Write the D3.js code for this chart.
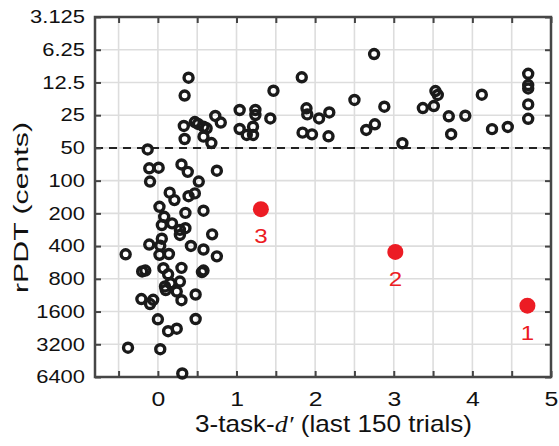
<!DOCTYPE html>
<html><head><meta charset="utf-8">
<script src="https://cdn.jsdelivr.net/npm/d3@7"></script>
<style>body{margin:0;background:#fff}svg{display:block}</style>
</head><body>
<svg id="c" width="559" height="446"></svg>
<script>
// ---- data ----
const dprime = [0.39,0.34,0.33,0.34,0.47,0.58,0.62,0.58,0.68,0.73,
  0.80,0.51,1.04,1.04,1.13,1.21,1.24,1.24,1.21,1.43,
  1.47,1.83,1.89,1.90,2.05,2.18,1.84,1.96,2.17,2.50,
  2.65,2.76,2.75,2.88,3.11,3.37,3.53,3.56,3.51,3.70,
  3.73,3.91,4.12,4.25,4.45,4.71,4.71,4.71,4.71,4.71,
  -0.13,
  -0.11,0.01,-0.10,0.30,0.38,0.75,0.52,0.15,0.21,0.39,
  0.47,0.02,0.35,0.58,0.08,0.05,0.18,0.28,0.35,0.28,
  0.69,-0.11,0.05,0.03,0.02,0.14,0.42,0.58,0.75,-0.41,
  -0.20,-0.16,0.07,0.13,0.30,0.56,0.58,0.09,0.16,0.28,
  0.10,0.24,0.48,-0.21,-0.06,-0.10,0.30,0.00,0.48,0.13,
  0.24,-0.38,0.03,0.31];
const rpdt = [11.3,16.5,31.4,41.4,28.9,31.9,33.0,39.4,45.1,25.4,
  29.2,30.1,22.4,33.5,38.0,38.0,22.4,24.9,31.9,26.8,
  14.9,11.2,21.6,24.6,26.8,23.6,36.2,37.5,39.1,18.1,
  34.2,30.3,6.85,20.9,45.3,21.5,15.0,16.3,20.6,25.6,
  37.4,25.3,16.2,33.6,32.1,10.4,13.2,14.2,19.9,27.0,
  51.7,
  77,76,102,71,83,81,102,129,151,139,
  131,174,198,189,215,256,247,284,274,316,
  312,387,342,397,481,473,399,430,497,476,
  685,671,639,727,634,693,671,941,878,847,
  1014,1047,1115,1227,1248,1364,1258,1886,1874,2427,
  2302,3441,3553,5943];
const redX = [4.70, 3.02, 1.31];
const redY = [1413, 453, 183];
const redLabels = ["1", "2", "3"];
const yTicks = [3.125, 6.25, 12.5, 25, 50, 100, 200, 400, 800, 1600, 3200, 6400];
const yTickLabels = ["3.125","6.25","12.5","25","50","100","200","400","800","1600","3200","6400"];
const xTicks = [-0.5, 0, 0.5, 1, 1.5, 2, 2.5, 3, 3.5, 4, 4.5, 5];
const xDomain = [-0.8, 5];
const yDomain = [3.125, 6400];
const threshold = 50;

// ---- layout ----
const L = 95, R = 551, T = 17, B = 377;
const svg = d3.select("#c");
const x = d3.scaleLinear().domain(xDomain).range([L, R]);
const y = d3.scaleLog().base(2).domain(yDomain).range([T, B]);
const font = "'Liberation Sans', Arial, Helvetica, sans-serif";
const red = "#ec1c24";

// grid
const grid = svg.append("g").attr("stroke", "#dddddd").attr("stroke-width", 1.6);
grid.selectAll("line.v").data(xTicks.filter(d => d > xDomain[0] && d < xDomain[1]))
  .join("line").attr("x1", d => x(d)).attr("x2", d => x(d)).attr("y1", T).attr("y2", B);
grid.selectAll("line.h").data(yTicks.filter(d => d > yDomain[0] && d < yDomain[1]))
  .join("line").attr("class","h").attr("y1", d => y(d)).attr("y2", d => y(d)).attr("x1", L).attr("x2", R);

// threshold dashed line
svg.append("line").attr("x1", L).attr("x2", R).attr("y1", y(threshold)).attr("y2", y(threshold))
  .attr("stroke", "#222").attr("stroke-width", 2).attr("stroke-dasharray", "8,6");

// axes
function styleAxis(g) {
  g.select(".domain").remove();
  g.selectAll(".tick line").attr("stroke", "#444").attr("stroke-width", 2);
}
const yAxis = svg.append("g").attr("transform", `translate(${L},0)`)
  .call(d3.axisLeft(y).tickValues(yTicks).tickFormat((d,i) => yTickLabels[i]).tickSizeInner(-6).tickSizeOuter(0).tickPadding(10));
styleAxis(yAxis);
yAxis.selectAll("text").attr("font-family", font).attr("font-size", 18).attr("fill", "#111")
  .attr("transform", "translate(-10,0) scale(1.22,1) translate(10,0)");

const yAxisR = svg.append("g").attr("transform", `translate(${R},0)`)
  .call(d3.axisRight(y).tickValues(yTicks).tickFormat("").tickSizeInner(-6).tickSizeOuter(0));
styleAxis(yAxisR);

const xAxis = svg.append("g").attr("transform", `translate(0,${B})`)
  .call(d3.axisBottom(x).tickValues(xTicks).tickFormat(d => Number.isInteger(d) ? d3.format("d")(d) : "").tickSizeInner(-6).tickSizeOuter(0).tickPadding(14));
styleAxis(xAxis);
xAxis.selectAll("text").attr("font-family", font).attr("font-size", 21).attr("fill", "#111")
  .attr("transform", "scale(1.18,1)");

const xAxisT = svg.append("g").attr("transform", `translate(0,${T})`)
  .call(d3.axisTop(x).tickValues(xTicks).tickFormat("").tickSizeInner(-6).tickSizeOuter(0));
styleAxis(xAxisT);

// frame
svg.append("rect").attr("x", L).attr("y", T).attr("width", R - L).attr("height", B - T)
  .attr("fill", "none").attr("stroke", "#464646").attr("stroke-width", 2.5);

// points
const pts = dprime.map((d, i) => ({x: d, y: rpdt[i]}));
svg.append("g").selectAll("circle").data(pts).join("circle")
  .attr("cx", d => x(d.x)).attr("cy", d => y(d.y)).attr("r", 4.5)
  .attr("fill", "none").attr("stroke", "#1a1a1a").attr("stroke-width", 3.4);

// red highlighted points
const reds = redX.map((d, i) => ({x: d, y: redY[i], label: redLabels[i]}));
svg.append("g").selectAll("circle").data(reds).join("circle")
  .attr("cx", d => x(d.x)).attr("cy", d => y(d.y)).attr("r", 8).attr("fill", red);
svg.append("g").selectAll("text").data(reds).join("text")
  .attr("transform", d => `translate(${x(d.x)},${y(d.y) + 34}) scale(1.15,1)`)
  .attr("text-anchor", "middle").attr("font-family", font).attr("font-size", 21).attr("fill", red)
  .text(d => d.label);

// x label
const xl = svg.append("text").attr("text-anchor", "middle").attr("font-family", font)
  .attr("font-size", 23).attr("fill", "#111");
xl.append("tspan").text("3-task-");
xl.append("tspan").attr("font-family", "'Liberation Serif', 'Times New Roman', serif").attr("font-style", "italic").text("d′");
xl.append("tspan").text(" (last 150 trials)");
const xw = xl.node().getComputedTextLength();
xl.attr("transform", `translate(333.5,432) scale(${277 / xw},1)`);

// y label
const yl = svg.append("text").attr("text-anchor", "middle").attr("font-family", font)
  .attr("font-size", 20).attr("fill", "#111").text("rPDT (cents)");
const yw = yl.node().getComputedTextLength();
yl.attr("transform", `translate(28,207.5) rotate(-90) scale(${171 / yw},1)`);
</script>
</body></html>
